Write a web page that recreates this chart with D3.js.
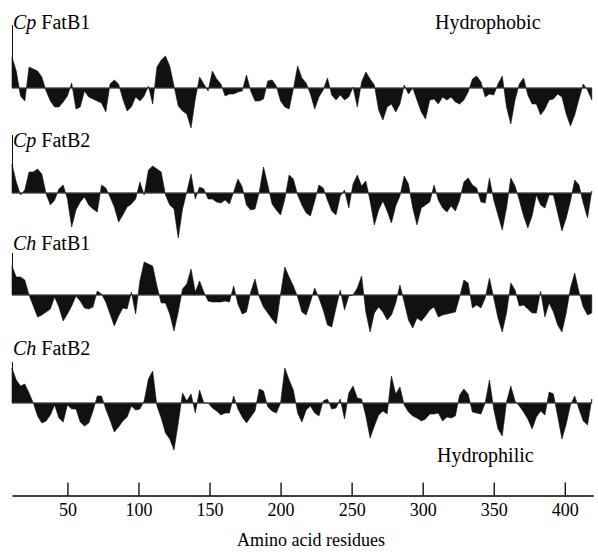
<!DOCTYPE html>
<html lang="en">
  <head>
    <meta charset="utf-8" />
    <title>D3: hydropathy plots of FatB thioesterases</title>
    <script src="https://d3js.org/d3.v7.min.js"></script>
    <style type="text/css">
      body { margin: 0; background: #fff; }
      text { font-family: 'Liberation Serif', 'Times New Roman', serif; fill: #000; }
    </style>
  </head>
  <body>
    <script type="text/javascript">
      //Width and height
      const w = 598;
      const h = 553;

      //Residue numbering: one value every 3 residues, starting at residue 11
      const firstResidue = 11;
      const residueStep = 3;
      const tickValues = [50, 100, 150, 200, 250, 300, 350, 400];

      const trackNames = ['FatB1', 'FatB2', 'FatB1', 'FatB2'];
      const trackSpecies = ['Cp', 'Cp', 'Ch', 'Ch'];

      //Hydropathy values
      const cpFatB1 = [
        3.1, 1.7, -0.8, -1.3, 2.1, 1.9, 1.7, 1.1, -0.3, -1.3,
        -1.9, -1.9, -1.4, -0.8, 0.5, -2.1, -1.9, -0.3, -0.9, -1.1,
        -1.3, -1.5, -2.4, 0.4, 0.8, 0.4, -1.1, -2.3, -1.9, -0.9,
        -1.3, -0.8, 0.2, -1.6, 2.1, 2.8, 3.2, 2.2, 0.2, -1.8,
        -2.3, -2.6, -4.0, -1.1, 1.1, 0.4, -0.3, 1.7, 0.9, 0.4,
        -0.8, -0.6, -0.6, -0.4, -0.3, 1.3, -0.3, -1.3, -1.3, -1.1,
        0.7, 0.8, 0.2, -1.3, -1.9, -2.1, -0.1, 2.2, 1.0, 0.5,
        -0.6, -2.1, -0.9, -0.2, 1.0, -0.7, -1.2, -0.7, -1.2, -0.9,
        0.1, -1.9, 0.6, 1.6, 0.9, 0.3, -2.2, -3.2, -1.9, -1.6,
        -2.4, -1.6, 0.3, -0.6, 0, -1.2, -2.4, -3.1, -1.2, -1.1,
        -1.6, -0.9, -1.2, -0.9, -1.4, -1.6, -1.2, -0.4, 0.9, 1.2,
        0.6, -0.9, -0.6, -0.7, 0.4, 1.2, -1.9, -3.6, -1.2, 0.4,
        1.0, -0.7, -1.6, -1.6, -2.7, -2.1, -1.2, -1.1, -0.6, -0.9,
        -2.6, -3.8, -2.7, -1.1, 0.4, -0.2, -1.2,
      ];
      const cpFatB2 = [
        2.9, 1.1, -0.2, 0.3, 2.1, 2.1, 2.4, 1.9, -0.1, -1.2,
        -0.7, 0.4, 0.8, -0.6, -3.4, -1.7, -0.9, -0.4, -1.2, -1.6,
        -1.9, 0.8, 0.5, -0.4, -1.4, -2.9, -2.2, -1.4, -1.1, -0.6,
        1.1, -0.2, 2.3, 2.7, 2.4, 2.1, -0.2, -1.2, -1.6, -4.5,
        -1.6, 0.1, 1.9, -0.6, 0.6, 0.4, -0.6, -0.6, -0.9, -1.0,
        -0.7, -1.1, 0.1, 1.4, 0.6, -1.2, -1.7, -1.6, 0.1, 2.6,
        0.8, -1.1, -1.7, -2.2, -0.6, 1.8, 1.4, -0.2, -1.2, -2.0,
        -2.3, -0.8, 0.8, 0.5, -0.7, -1.8, -2.2, -0.3, 0.3, -1.5,
        0.9, 1.8, 0.7, 1.2, -0.8, -3.2, -1.7, -0.8, -1.8, -3.0,
        -1.3, -0.3, 1.7, 0.9, -1.5, -3.2, -1.5, -1.2, -0.9, 0.8,
        -0.7, -1.5, -1.9, -1.3, -1.8, -0.7, 1.1, 1.5, 0.8, 0.5,
        -0.9, -1.0, 1.5, -0.7, -2.2, -3.7, -1.5, 1.5, 0.7, -0.7,
        -2.3, -3.5, -2.3, -0.2, -1.2, -1.5, -0.2, -0.2, -2.0, -3.8,
        -2.5, -0.8, 1.3, 0.8, -1.0, -2.5, 0.2,
      ];
      const chFatB1 = [
        2.9, 1.8, 1.8, 1.5, 0, -1.1, -2.2, -2.0, -1.7, -1.4,
        -0.2, -1.2, -2.6, -1.9, -1.1, -0.1, -0.6, -1.3, -1.4, -1.2,
        0.4, 0.1, -0.7, -1.9, -3.1, -2.1, -1.3, -1.4, 0.3, -1.9,
        1.4, 3.3, 3.1, 2.9, 0.9, -0.8, -0.8, -1.9, -3.6, -1.7,
        0.6, 1.1, 2.6, 0.3, 1.4, 0.3, -0.6, -0.7, -0.7, -0.7,
        -0.6, -0.7, 0.9, -0.9, -1.9, -1.7, 0.3, 1.6, -0.2, -1.2,
        -1.8, -2.4, -2.9, 0.1, 2.8, 1.8, 0.9, -0.2, -1.7, -2.0,
        -0.7, 0.7, -0.3, -1.5, -3.0, -3.2, -1.3, 0.5, -1.5, -0.1,
        0, 0.7, 1.9, -1.7, -3.7, -1.8, -1.2, -1.7, -2.5, -2.0,
        -0.8, 1.0, -0.7, -2.5, -3.3, -2.3, -2.6, -2.1, -1.5, -1.2,
        -2.2, -2.0, -1.9, -1.8, -1.7, -0.2, 1.5, 1.2, -1.3, -1.0,
        -1.3, -0.3, 1.7, -0.3, -2.3, -3.7, -1.8, 1.2, 0.5, -1.1,
        -1.0, -1.4, -1.8, -1.8, 0.4, -2.2, -0.8, -1.7, -3.0, -3.7,
        -1.8, 0.7, 2.2, 0.3, -1.2, -2.0, -1.8,
      ];
      const chFatB2 = [
        3.5, 2.3, 1.7, 1.9, 1.0, 0, -1.3, -2.0, -1.8, -1.2,
        -0.2, -1.5, -1.9, -0.2, -0.6, -0.6, -1.9, -2.3, -2.0, -0.8,
        0.7, 0.7, -0.6, -1.7, -2.9, -2.4, -1.8, -1.4, -0.3, -0.7,
        -0.6, 0.2, 2.4, 3.2, -0.3, -1.5, -3.0, -3.6, -4.7, -2.0,
        1.0, 0.2, 0.9, -1.0, 1.3, 0, 0, -0.5, -0.8, -1.2,
        -1.0, -1.0, 0.7, -0.6, -1.4, -2.0, -1.4, -0.8, 1.4, 1.2,
        -0.4, -0.8, -1.0, 0, 3.5, 2.3, 1.3, -1.0, -1.9, -0.7,
        -0.3, -1.0, -1.3, 0.2, 0.4, -0.6, -0.5, 0.4, -1.6, 1.0,
        1.7, 0.5, 0.4, -1.3, -3.5, -2.3, -1.2, -0.8, -1.1, 2.7,
        0.9, 1.6, -0.2, -0.9, -1.3, -1.5, -1.8, -1.6, -1.1, -1.1,
        -1.0, -1.8, -1.4, -1.5, -1.3, 0.8, 1.4, 0.9, -0.9, -1.0,
        -1.1, 0, 2.3, -0.6, -2.6, -3.3, 0.1, 1.7, 0.2, -0.3,
        -0.9, -1.6, -2.6, -1.4, -0.8, -1.2, 1.1, 0.9, -1.3, -3.6,
        -2.1, -0.2, 0.7, -0.6, -1.8, -2.2, 0.4,
      ];
      //Value of the very first residue (thin spike at the left edge)
      const startValues = [6.3, 5.8, 4.2, 4.1];

      const series = [cpFatB1, cpFatB2, chFatB1, chFatB2];
      const baselines = [88, 193, 295, 403];

      const xScale = d3.scaleLinear().domain([11, 420]).range([12, 593.2]);

      //Create SVG element
      const svg = d3.select('body').append('svg').attr('width', w).attr('height', h);

      series.forEach((values, t) => {
        const yScale = d3
          .scaleLinear()
          .domain([-5, 5])
          .range([baselines[t] + 50, baselines[t] - 50]);

        const area = d3
          .area()
          .x((d, i) => xScale(firstResidue + i * residueStep))
          .y0(yScale(0))
          .y1((d) => yScale(d));

        const g = svg.append('g').attr('class', 'track');

        g.append('path')
          .datum(values)
          .attr('d', area)
          .attr('fill', '#111')
          .attr('stroke', '#111')
          .attr('stroke-width', 0.6)
          .attr('stroke-linejoin', 'miter');

        //Zero line
        g.append('line')
          .attr('x1', xScale(firstResidue))
          .attr('x2', xScale(firstResidue + (values.length - 1) * residueStep))
          .attr('y1', yScale(0))
          .attr('y2', yScale(0))
          .attr('stroke', '#444')
          .attr('stroke-width', 1);

        //First-residue spike
        g.append('line')
          .attr('x1', xScale(firstResidue) + 0.5)
          .attr('x2', xScale(firstResidue) + 0.5)
          .attr('y1', yScale(0))
          .attr('y2', yScale(startValues[t]))
          .attr('stroke', '#111')
          .attr('stroke-width', 1);

        //Track label
        const label = g
          .append('text')
          .attr('x', 13)
          .attr('y', baselines[t] - (t === 0 ? 59 : t === 1 ? 46 : t === 2 ? 45 : 48))
          .attr('font-size', '20px');
        label.append('tspan').attr('font-style', 'italic').text(trackSpecies[t]);
        label.append('tspan').text(' ' + trackNames[t]);
      });

      svg
        .append('text')
        .attr('x', 435)
        .attr('y', 29)
        .attr('font-size', '20px')
        .text('Hydrophobic');

      svg
        .append('text')
        .attr('x', 437)
        .attr('y', 462)
        .attr('font-size', '20px')
        .text('Hydrophilic');

      //X axis
      const xAxis = d3
        .axisBottom(xScale)
        .tickValues(tickValues)
        .tickSizeInner(-13)
        .tickSizeOuter(0)
        .tickPadding(8);

      const axisG = svg.append('g').attr('transform', 'translate(0,495.5)').call(xAxis);
      axisG.select('.domain').attr('stroke', '#000').attr('stroke-width', 1.3);
      axisG.selectAll('.tick line').attr('stroke', '#000').attr('stroke-width', 1.3);
      axisG
        .selectAll('.tick text')
        .attr('font-family', "'Liberation Serif', 'Times New Roman', serif")
        .attr('font-size', '18px')
        .attr('fill', '#000');

      svg
        .append('text')
        .attr('x', 311)
        .attr('y', 546)
        .attr('text-anchor', 'middle')
        .attr('font-size', '18px')
        .text('Amino acid residues');
    </script>
  </body>
</html>
